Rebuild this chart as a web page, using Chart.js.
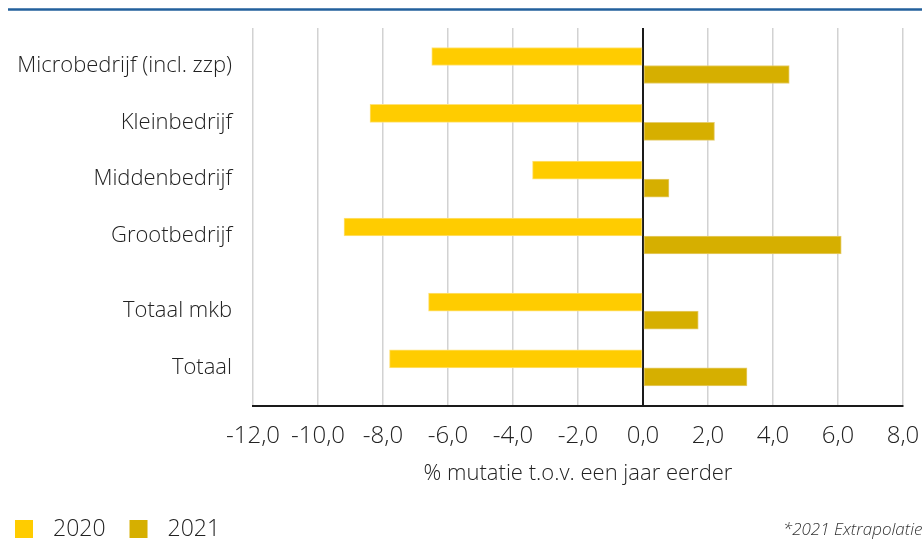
<!DOCTYPE html>
<html>
<head>
<meta charset="utf-8">
<script src="https://cdn.jsdelivr.net/npm/chart.js@4"></script>
<style>
  html, body { margin: 0; padding: 0; background: #fff; }
</style>
</head>
<body>
<canvas id="chart" width="922" height="540"></canvas>
<script>
// ---- data ----
const categories = ['Microbedrijf (incl. zzp)', 'Kleinbedrijf', 'Middenbedrijf', 'Grootbedrijf', 'Totaal mkb', 'Totaal'];
const seriesLabels = ['2020', '2021'];
const values2020 = [-6.5, -8.4, -3.4, -9.2, -6.6, -7.8];
const values2021 = [4.5, 2.2, 0.8, 6.1, 1.7, 3.2];
const xTickValues = [-12, -10, -8, -6, -4, -2, 0, 2, 4, 6, 8];
const axisTitle = '% mutatie t.o.v. een jaar eerder';
const footnote = '*2021 Extrapolatie';

// summary rows (Totaal mkb, Totaal) sit a little further down
const SUMMARY_START = 4;
const SUMMARY_GAP = 0.32;
const rowPos = categories.map((c, i) => i + (i >= SUMMARY_START ? SUMMARY_GAP : 0));

const FONT = "'Open Sans', sans-serif";
const TEXT = '#222';

const toPoints = vals => vals.map((v, i) => ({ x: v, y: rowPos[i] }));

// blue rule at the top, legend bottom-left, footnote bottom-right
const decor = {
  id: 'decor',
  afterDraw(chart) {
    const ctx = chart.ctx;
    ctx.save();
    ctx.strokeStyle = '#23609c';
    ctx.lineWidth = 2.5;
    ctx.beginPath();
    ctx.moveTo(8, 9.5);
    ctx.lineTo(922, 9.5);
    ctx.stroke();

    ctx.font = '300 23px ' + FONT;
    ctx.textBaseline = 'middle';
    ctx.textAlign = 'left';
    let x = 15;
    chart.data.datasets.forEach(ds => {
      ctx.fillStyle = ds.backgroundColor;
      ctx.fillRect(x, 520, 18, 18);
      ctx.fillStyle = TEXT;
      ctx.fillText(ds.label, x + 38, 529);
      x += 38 + ctx.measureText(ds.label).width + 24;
    });

    ctx.font = 'italic 300 17px ' + FONT;
    ctx.fillStyle = '#333';
    ctx.fillText(footnote, 783, 530);
    ctx.restore();
  }
};

new Chart(document.getElementById('chart'), {
  type: 'bar',
  data: {
    datasets: [{
      label: seriesLabels[0],
      data: toPoints(values2020),
      backgroundColor: '#FFCC00',
      borderColor: '#FFE27A',
      borderWidth: 1,
      borderSkipped: false,
    }, {
      label: seriesLabels[1],
      data: toPoints(values2021),
      backgroundColor: '#D6AF00',
      borderColor: '#E6CD6E',
      borderWidth: 1,
      borderSkipped: false,
    }]
  },
  options: {
    indexAxis: 'y',
    responsive: false,
    animation: false,
    devicePixelRatio: 1,
    barThickness: 18,
    layout: { padding: { top: 28, right: 19, bottom: 40, left: 0 } },
    plugins: {
      legend: { display: false },
      tooltip: { enabled: false }
    },
    scales: {
      x: {
        type: 'linear',
        position: 'bottom',
        min: -12,
        max: 8,
        afterBuildTicks: s => { s.ticks = xTickValues.map(v => ({ value: v })); },
        afterFit: s => { s.height = 94; s.paddingLeft = 0; s.paddingRight = 0; },
        grid: {
          drawTicks: false,
          color: c => c.tick && c.tick.value === 0 ? '#1a1a1a' : '#d2d2d2',
          lineWidth: c => c.tick && c.tick.value === 0 ? 2 : 1.5,
        },
        border: { color: '#1a1a1a', width: 2 },
        ticks: {
          padding: 16,
          color: TEXT,
          font: { size: 24, family: FONT, weight: '300' },
          callback: v => v.toFixed(1).replace('.', ',')
        },
        title: {
          display: true,
          text: axisTitle,
          color: TEXT,
          font: { size: 22, family: FONT, weight: '300' },
          padding: { top: 0, bottom: 13 }
        }
      },
      y: {
        type: 'linear',
        reverse: true,
        offset: false,
        min: -0.66,
        max: 5.99,
        afterBuildTicks: s => { s.ticks = rowPos.map(v => ({ value: v })); },
        afterFit: s => { s.width = 253; s.paddingTop = 0; s.paddingBottom = 0; },
        grid: { display: false, drawTicks: false },
        border: { display: false },
        ticks: {
          padding: 21,
          autoSkip: false,
          color: TEXT,
          font: { size: 22, family: FONT, weight: '300' },
          callback: (v, i) => categories[i]
        }
      }
    }
  },
  plugins: [decor]
});
</script>
</body>
</html>
